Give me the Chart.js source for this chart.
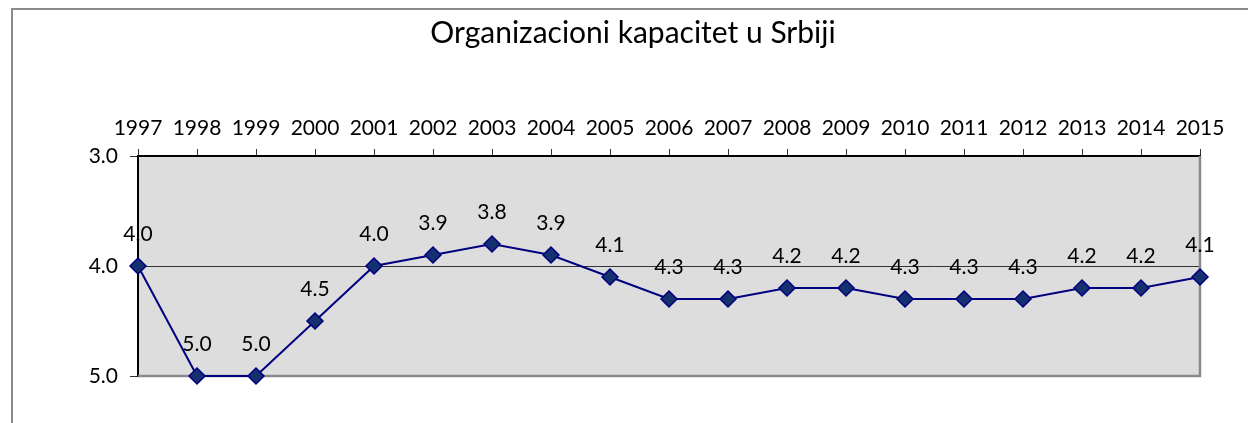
<!DOCTYPE html>
<html lang="sr">
<head>
  <meta charset="UTF-8">
  <title>Organizacioni kapacitet u Srbiji</title>
  <script src="https://cdn.jsdelivr.net/npm/chart.js"></script>
  <style>
    body {
      margin: 0;
      background: #fff;
      font-family: Lato, Arial, sans-serif;
    }
    .frame {
      position: absolute;
      left: 11px;
      top: 8px;
      right: -2px;
      bottom: -2px;
      border-left: 2px solid #8c8c8c;
      border-top: 2px solid #8c8c8c;
    }
    .wrap {
      position: absolute;
      left: 0;
      top: 0;
      width: 1248px;
      height: 423px;
    }
  </style>
</head>
<body>
  <div class="frame"></div>
  <div class="wrap"><canvas id="kapacitet"></canvas></div>

  <script>
    const years = ['1997', '1998', '1999', '2000', '2001', '2002', '2003', '2004', '2005', '2006',
                   '2007', '2008', '2009', '2010', '2011', '2012', '2013', '2014', '2015'];
    const scores = [4.0, 5.0, 5.0, 4.5, 4.0, 3.9, 3.8, 3.9, 4.1, 4.3,
                    4.3, 4.2, 4.2, 4.3, 4.3, 4.3, 4.2, 4.2, 4.1];
    const yTicks = [3.0, 4.0, 5.0];

    const FONT = 'Lato, Arial, sans-serif';

    // grey plot background plus the grey right/bottom edge
    const plotBox = {
      id: 'plotBox',
      beforeDraw(chart) {
        const { ctx, chartArea: a } = chart;
        ctx.save();
        ctx.fillStyle = '#dddddd';
        ctx.fillRect(a.left, a.top, a.right - a.left, a.bottom - a.top);
        ctx.restore();
      },
      beforeDatasetsDraw(chart) {
        const { ctx, chartArea: a } = chart;
        ctx.save();
        ctx.strokeStyle = '#8a8a8a';
        ctx.lineWidth = 2.5;
        ctx.beginPath();
        ctx.moveTo(a.right, a.top);
        ctx.lineTo(a.right, a.bottom);
        ctx.lineTo(a.left, a.bottom);
        ctx.stroke();
        ctx.restore();
      }
    };

    // value labels above every point
    const valueLabels = {
      id: 'valueLabels',
      afterDatasetsDraw(chart) {
        const { ctx } = chart;
        const meta = chart.getDatasetMeta(0);
        ctx.save();
        ctx.font = '21px ' + FONT;
        ctx.fillStyle = '#000';
        ctx.textAlign = 'center';
        ctx.textBaseline = 'middle';
        meta.data.forEach((pt, i) => {
          ctx.fillText(scores[i].toFixed(1), pt.x, pt.y - 32);
        });
        ctx.restore();
      }
    };

    new Chart(document.getElementById('kapacitet'), {
      type: 'line',
      data: {
        labels: years,
        datasets: [{
          data: scores,
          borderColor: '#000080',
          borderWidth: 2,
          backgroundColor: '#14306e',
          pointStyle: 'rectRot',
          pointRadius: 8,
          pointBorderColor: '#000080',
          pointBorderWidth: 1.5,
          pointBackgroundColor: '#14306e',
          tension: 0,
          clip: false
        }]
      },
      options: {
        responsive: true,
        maintainAspectRatio: false,
        animation: false,
        events: [],
        layout: { padding: { left: 66, right: 48, top: 0, bottom: 47 } },
        plugins: {
          legend: { display: false },
          tooltip: { enabled: false },
          title: {
            display: true,
            text: 'Organizacioni kapacitet u Srbiji',
            color: '#000',
            font: { family: FONT, size: 30, weight: 'normal' },
            padding: { top: 15, bottom: 8 }
          }
        },
        scales: {
          x: {
            position: 'top',
            offset: false,
            afterFit(scale) { scale.height = 97; },
            grid: {
              drawOnChartArea: false,
              drawTicks: true,
              tickLength: 7,
              tickColor: '#333'
            },
            border: { display: true, color: '#000', width: 2 },
            ticks: {
              color: '#000',
              autoSkip: false,
              maxRotation: 0,
              padding: 8,
              font: { family: FONT, size: 21 }
            }
          },
          y: {
            reverse: true,
            min: 3,
            max: 5,
            afterFit(scale) { scale.width = 72; },
            afterBuildTicks(scale) { scale.ticks = yTicks.map(v => ({ value: v })); },
            grid: {
              color: ctx => ctx.tick && ctx.tick.value === 4 ? '#333' : 'transparent',
              lineWidth: 1,
              tickLength: 8,
              tickColor: '#333'
            },
            border: { display: true, color: '#000', width: 2 },
            ticks: {
              color: '#000',
              padding: 12,
              font: { family: FONT, size: 21 },
              callback: v => Number(v).toFixed(1)
            }
          }
        }
      },
      plugins: [plotBox, valueLabels]
    });
  </script>
</body>
</html>
